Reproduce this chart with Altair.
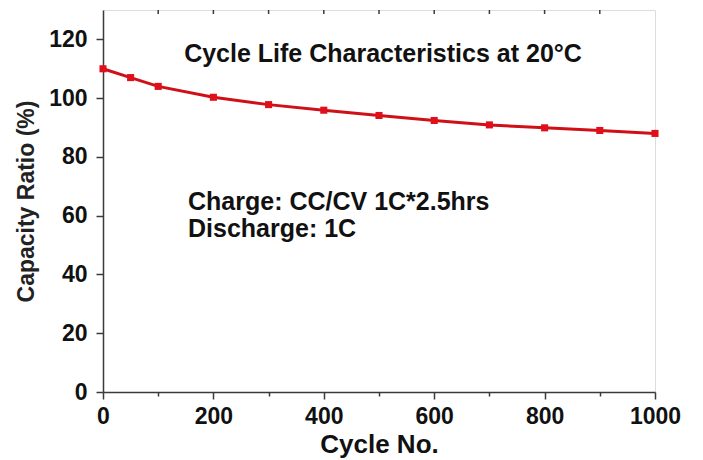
import altair as alt
import pandas as pd

cycles = [0, 50, 100, 200, 300, 400, 500, 600, 700, 800, 900, 1000]
capacity = [110, 107, 104, 100.3, 97.8, 95.9, 94.1, 92.4, 90.9, 89.9, 89.0, 88.0]
top_ticks = [100, 200, 300, 400, 500, 600, 700, 800, 900]

title_text = "Cycle Life Characteristics at 20°C"
note_lines = ["Charge: CC/CV 1C*2.5hrs", "Discharge: 1C"]

df = pd.DataFrame({"cycle": cycles, "cap": capacity})
ticks_df = pd.DataFrame({"tick": top_ticks})

FONT = "Liberation Sans"
RED_LINE = "#cf1016"
RED_PT = "#e0101a"
AX = "#3a3a3a"

xscale = alt.Scale(domain=[0, 1000], nice=False, zero=False)
yscale = alt.Scale(domain=[0, 130], nice=False)

xaxis = alt.Axis(
    title="Cycle No.",
    values=list(range(0, 1001, 100)),
    format="d",
    labelExpr="datum.value % 200 == 0 ? datum.label : ''",
    tickSize=alt.condition("datum.value % 200 == 0", alt.value(7), alt.value(4)),
    grid=False,
    labelFont=FONT, labelFontSize=23, labelFontWeight="bold", labelColor="#111",
    titleFont=FONT, titleFontSize=26, titleFontWeight="bold", titleColor="#111",
    labelPadding=6, titlePadding=3,
    domainColor=AX, domainWidth=1.5, tickColor=AX, tickWidth=1.5,
    labelFlush=False,
)
yaxis = alt.Axis(
    title="Capacity Ratio (%)",
    values=list(range(0, 131, 10)),
    format="d",
    labelExpr="datum.value % 20 == 0 ? datum.label : ''",
    tickSize=alt.condition("datum.value % 20 == 0", alt.value(7), alt.value(4)),
    grid=False,
    labelFont=FONT, labelFontSize=23, labelFontWeight="bold", labelColor="#111",
    titleFont=FONT, titleFontSize=23, titleFontWeight="bold", titleColor="#222",
    labelPadding=9, titlePadding=10,
    domainColor=AX, domainWidth=1.5, tickColor=AX, tickWidth=1.5,
    labelFlush=False,
)

base = alt.Chart(df)

line = base.mark_line(color=RED_LINE, strokeWidth=3).encode(
    x=alt.X("cycle:Q", scale=xscale, axis=xaxis),
    y=alt.Y("cap:Q", scale=yscale, axis=yaxis),
)

pts = base.mark_square(color=RED_PT, size=50, opacity=1).encode(
    x=alt.X("cycle:Q", scale=xscale),
    y=alt.Y("cap:Q", scale=yscale),
)

top_tick_marks = alt.Chart(ticks_df).mark_rule(color=AX, strokeWidth=1.5).encode(
    x=alt.X("tick:Q", scale=xscale),
    y=alt.value(0),
    y2=alt.value(4),
)

title_df = pd.DataFrame({"t": [title_text]})
title_mark = alt.Chart(title_df).mark_text(
    font=FONT, fontSize=25, fontWeight="bold", color="#111",
    align="center", baseline="alphabetic",
).encode(text="t:N", x=alt.value(280), y=alt.value(52))

note1 = alt.Chart(pd.DataFrame({"t": [note_lines[0]]})).mark_text(
    font=FONT, fontSize=25, fontWeight="bold", color="#111",
    align="left", baseline="alphabetic",
).encode(text="t:N", x=alt.value(85), y=alt.value(200))

note2 = alt.Chart(pd.DataFrame({"t": [note_lines[1]]})).mark_text(
    font=FONT, fontSize=25, fontWeight="bold", color="#111",
    align="left", baseline="alphabetic",
).encode(text="t:N", x=alt.value(85), y=alt.value(227))

chart = alt.layer(line, pts, top_tick_marks, title_mark, note1, note2).properties(
    width=552, height=382,
    autosize=alt.AutoSizeParams(type="none"),
    padding={"left": 95, "top": 2, "right": 40, "bottom": 66},
).configure_view(stroke=AX, strokeWidth=1.5).configure(background="white")

chart.save("out.html", embed_options={"renderer": "svg", "actions": False})
